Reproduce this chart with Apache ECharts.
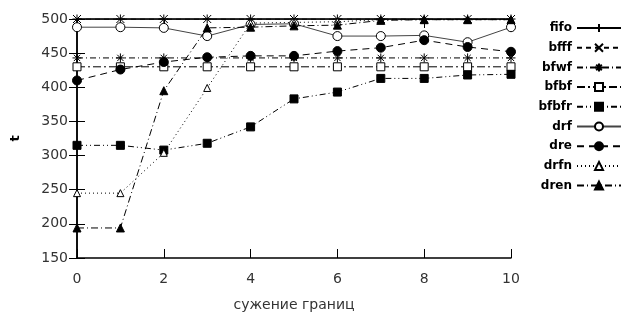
<!DOCTYPE html>
<html>
<head>
<meta charset="utf-8">
<script src="https://cdn.jsdelivr.net/npm/echarts@6/dist/echarts.min.js"></script>
<style>
  html, body { margin: 0; padding: 0; background: #fff; }
  #chart { width: 640px; height: 320px; }
</style>
</head>
<body>
<div id="chart"></div>
<script>
// сужение границ (x)
var steps = [0, 1, 2, 3, 4, 5, 6, 7, 8, 9, 10];

var fifo  = [500, 500, 500, 500, 500, 500, 500, 500, 500, 500, 500];
var bfff  = [500, 500, 500, 500, 500, 500, 500, 500, 500, 500, 500];
var bfwf  = [443, 443, 443, 443, 443, 443, 443, 443, 443, 443, 443];
var bfbf  = [430, 430, 430, 430, 430, 430, 430, 430, 430, 430, 430];
var bfbfr = [315, 315, 308, 318, 342, 383, 393, 413, 413, 418, 419];
var drf   = [488, 488, 487, 475, 492, 493, 475, 475, 476, 466, 488];
var dre   = [410, 426, 437, 444, 446, 446, 453, 458, 469, 459, 452];
var drfn  = [245, 245, 304, 399, 494, 495, 496, 499, 499, 499, 499];
var dren  = [194, 194, 395, 487, 488, 490, 491, 498, 499, 499, 499];

var PLUS = 'path://M0,5H10M5,0V10';
var CROSS = 'path://M1,1L9,9M1,9L9,1';
var STAR = 'path://M0,5H10M5,0V10M1.5,1.5L8.5,8.5M1.5,8.5L8.5,1.5';

function pairs(ys) {
  return steps.map(function (x, i) { return [x, ys[i]]; });
}

function mk(name, ys, symbol, size, fill, dash, lineColor) {
  return {
    name: name,
    type: 'line',
    data: pairs(ys),
    symbol: symbol,
    symbolSize: size,
    showAllSymbol: true,
    animation: false,
    lineStyle: { color: lineColor || '#000', width: 1, type: dash },
    itemStyle: { color: fill, borderColor: '#000', borderWidth: 1 },
    emphasis: { disabled: true }
  };
}

var series = [
  mk('fifo', fifo, PLUS, 9, '#000', 'solid'),
  mk('bfff', bfff, CROSS, 8, '#000', [5, 4]),
  mk('bfwf', bfwf, STAR, 9, '#000', [6, 3, 1, 3]),
  mk('bfbf', bfbf, 'rect', 8, '#fff', [8, 3, 2, 3]),
  mk('bfbfr', bfbfr, 'rect', 8, '#000', [6, 3, 1, 3, 1, 3]),
  mk('drf', drf, 'circle', 9, '#fff', 'solid', '#444'),
  mk('dre', dre, 'circle', 9, '#000', [7, 5]),
  mk('drfn', drfn, 'triangle', 7, '#fff', [1, 3]),
  mk('dren', dren, 'triangle', 8, '#000', [7, 3, 1, 3])
];

var labelFont = { fontFamily: 'DejaVu Sans', fontSize: 14, color: '#333' };

var chart = echarts.init(document.getElementById('chart'), null, { renderer: 'canvas' });
chart.setOption({
  backgroundColor: '#fff',
  animation: false,
  grid: { left: 77, right: 129, top: 19, bottom: 62 },
  legend: {
    orient: 'vertical',
    right: 13,
    top: 17,
    align: 'right',
    itemWidth: 44,
    itemHeight: 10,
    itemGap: 7.7,
    selectedMode: false,
    data: series.map(function (s) { return s.name; }),
    textStyle: { fontFamily: 'DejaVu Sans', fontWeight: 'bold', fontSize: 12, color: '#000' }
  },
  xAxis: [{
    type: 'value',
    min: 0, max: 10, interval: 2,
    name: 'сужение границ',
    nameLocation: 'middle',
    nameGap: 40,
    nameTextStyle: labelFont,
    axisLine: { lineStyle: { color: '#000', width: 1.5 } },
    axisTick: { inside: true, length: 9, lineStyle: { color: '#000' } },
    axisLabel: Object.assign({ margin: 14 }, labelFont),
    splitLine: { show: false }
  }, {
    type: 'value',
    position: 'top',
    min: 0, max: 10, interval: 2,
    axisLine: { show: true, lineStyle: { color: '#000', width: 1.5 } },
    axisTick: { inside: true, length: 9, lineStyle: { color: '#000' } },
    axisLabel: { show: false },
    splitLine: { show: false }
  }],
  yAxis: [{
    type: 'value',
    min: 150, max: 500, interval: 50,
    name: 't',
    nameLocation: 'middle',
    nameGap: 55,
    nameTextStyle: { fontFamily: 'DejaVu Sans', fontWeight: 'bold', fontSize: 13, color: '#000' },
    axisLine: { show: true, lineStyle: { color: '#000', width: 1.5 } },
    axisTick: { inside: true, length: 8, lineStyle: { color: '#000' } },
    axisLabel: Object.assign({ margin: 9 }, labelFont),
    splitLine: { show: false }
  }, {
    type: 'value',
    position: 'right',
    min: 150, max: 500, interval: 50,
    axisLine: { show: true, lineStyle: { color: '#000', width: 1.5 } },
    axisTick: { inside: true, length: 8, lineStyle: { color: '#000' } },
    axisLabel: { show: false },
    splitLine: { show: false }
  }],
  series: series
});
</script>
</body>
</html>
